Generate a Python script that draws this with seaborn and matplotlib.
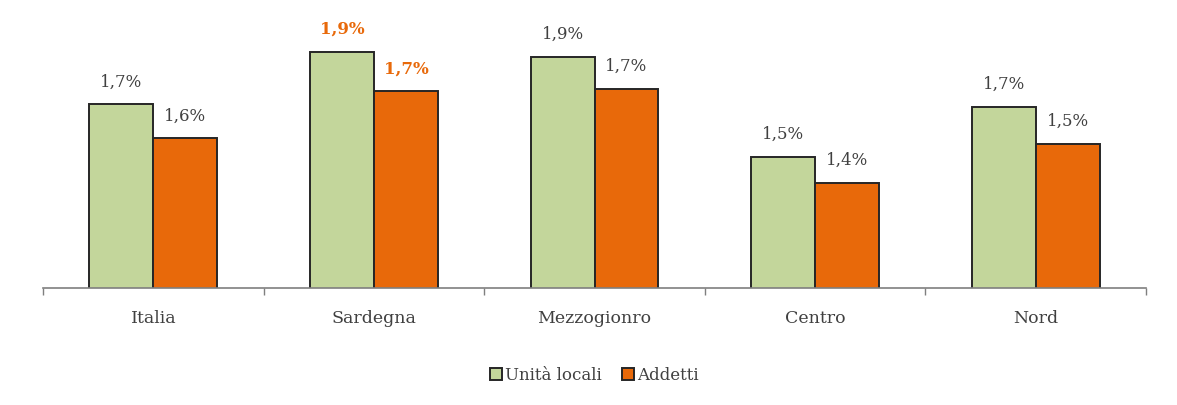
import pandas as pd
import matplotlib
matplotlib.use("Agg")
import matplotlib.pyplot as plt
import seaborn as sns

# Data
regions = ["Italia", "Sardegna", "Mezzogionro", "Centro", "Nord"]
unita_locali = [1.70, 1.90, 1.88, 1.50, 1.69]
addetti = [1.57, 1.75, 1.76, 1.40, 1.55]
labels_unita = ["1,7%", "1,9%", "1,9%", "1,5%", "1,7%"]
labels_addetti = ["1,6%", "1,7%", "1,7%", "1,4%", "1,5%"]
series = ["Unità locali", "Addetti"]

df = pd.DataFrame({
    "Regione": regions * 2,
    "Serie": [series[0]] * len(regions) + [series[1]] * len(regions),
    "Valore": unita_locali + addetti,
})

sns.set_style("white")
plt.rcParams["font.family"] = ["DejaVu Serif"]

green = "#c3d69b"
orange = "#e8690a"
text_grey = "#404040"

fig = plt.figure(figsize=(11.77, 4.05), dpi=100)
ax = fig.add_axes([43 / 1177, 1 - 288 / 405, (1146 - 43) / 1177, (288 - 15) / 405])

sns.barplot(data=df, x="Regione", y="Valore", hue="Serie", order=regions,
            hue_order=series, palette=[green, orange], width=0.58,
            edgecolor="#262626", linewidth=1.4, saturation=1, ax=ax)

ax.set_ylim(1.0, 2.04)
ax.set_xlim(-0.5, len(regions) - 0.5)

# value labels
for container, labs in zip(ax.containers, [labels_unita, labels_addetti]):
    for i, (bar, lab) in enumerate(zip(container, labs)):
        col = orange if regions[i] == "Sardegna" else text_grey
        weight = "bold" if regions[i] == "Sardegna" else "normal"
        ax.annotate(lab, (bar.get_x() + bar.get_width() / 2, bar.get_height()),
                    xytext=(0, 16), textcoords="offset points", ha="center",
                    va="center", fontsize=12, color=col, fontweight=weight)

# axis styling
for s in ["top", "right", "left"]:
    ax.spines[s].set_visible(False)
ax.spines["bottom"].set_color("#7f7f7f")
ax.spines["bottom"].set_linewidth(1.2)
ax.set_yticks([])
ax.set_xlabel("")
ax.set_ylabel("")
ax.set_xticks(range(len(regions)))
ax.set_xticklabels(regions, fontsize=12.5, color=text_grey)
ax.tick_params(axis="x", length=0, pad=16)
# boundary ticks between categories
ax.set_xticks([i - 0.5 for i in range(len(regions) + 1)], minor=True)
ax.tick_params(axis="x", which="minor", bottom=True, length=5, width=1,
               color="#7f7f7f", direction="out")

leg = ax.legend(loc="upper center", bbox_to_anchor=(0.5, -0.235), ncol=2,
                frameon=False, fontsize=12, handlelength=0.7, handleheight=0.7,
                handletextpad=0.2, columnspacing=1.2)
for t in leg.get_texts():
    t.set_color(text_grey)

fig.savefig("out.png", dpi=100)
